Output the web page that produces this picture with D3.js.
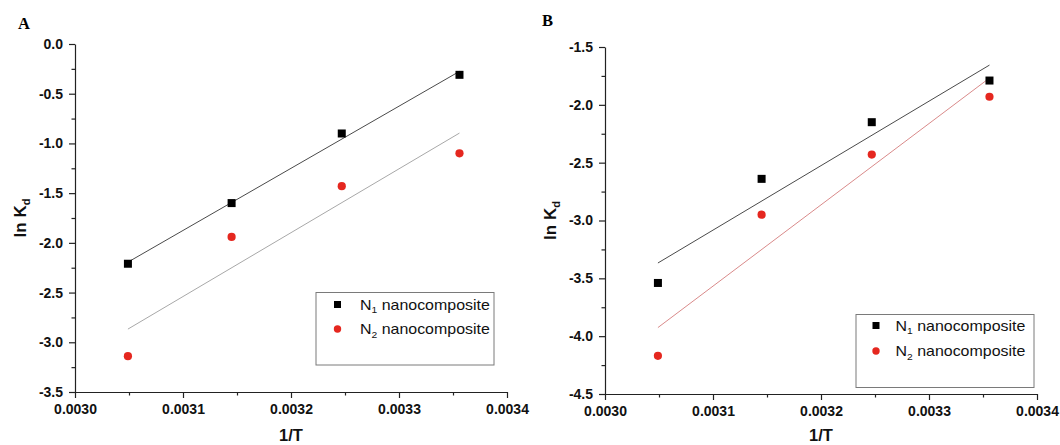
<!DOCTYPE html>
<html>
<head>
<meta charset="utf-8">
<script src="https://cdn.jsdelivr.net/npm/d3@7/dist/d3.min.js"></script>
<style>
  html, body { margin: 0; padding: 0; background: #fff; }
  svg { display: block; }
</style>
</head>
<body>
<svg id="chart" width="1060" height="445"></svg>
<script>
// ---------------- data ----------------
const invT = [0.003049, 0.003145, 0.003247, 0.003356];   // 1/T
const A_N1 = [-2.21, -1.60, -0.90, -0.31];
const A_N2 = [-3.14, -1.94, -1.43, -1.10];
const B_N1 = [-3.54, -2.64, -2.15, -1.79];
const B_N2 = [-4.17, -2.95, -2.43, -1.93];
const xTicks = [0.0030, 0.0031, 0.0032, 0.0033, 0.0034];
const A_yTicks = [0.0, -0.5, -1.0, -1.5, -2.0, -2.5, -3.0, -3.5];
const B_yTicks = [-1.5, -2.0, -2.5, -3.0, -3.5, -4.0, -4.5];
const seriesSub = ["1", "2"];            // N1 / N2
const seriesSuffix = " nanocomposite";
const panelLabels = ["A", "B"];
const xTitle = "1/T";

// ---------------- layout ----------------
const svg = d3.select("#chart");
const FONT = "'Liberation Sans', Arial, Helvetica, sans-serif";

function linFit(xs, ys) {
  const mx = d3.mean(xs), my = d3.mean(ys);
  let sxy = 0, sxx = 0;
  xs.forEach((x, i) => { sxy += (x - mx) * (ys[i] - my); sxx += (x - mx) * (x - mx); });
  const b = sxy / sxx;
  return x => my + b * (x - mx);
}

const panels = [
  { label: panelLabels[0], labelX: 18, labelY: 29, x0: 75, x1: 507, yTop: 44, yBot: 392,
    yDomain: [-3.5, 0], yTicks: A_yTicks, series: [A_N1, A_N2],
    lineColors: ["#4a4a4a", "#a8a8a8"], yTitleX: 26,
    legend: { x: 316, y: 292.5, w: 178, h: 72.5, mx: 21.5, tx: 44, r1: 12, r2: 36.5 } },
  { label: panelLabels[1], labelX: 542, labelY: 26, x0: 605, x1: 1037, yTop: 47, yBot: 394,
    yDomain: [-4.5, -1.5], yTicks: B_yTicks, series: [B_N1, B_N2],
    lineColors: ["#4a4a4a", "#d98a8a"], yTitleX: 556,
    legend: { x: 856, y: 314.5, w: 178, h: 73, mx: 20, tx: 39.5, r1: 11, r2: 36.5 } }
];

const markerColors = ["#000000", "#e5271f"];

panels.forEach(p => {
  const g = svg.append("g");
  const x = d3.scaleLinear().domain([xTicks[0], xTicks[xTicks.length - 1]]).range([p.x0, p.x1]);
  const y = d3.scaleLinear().domain(p.yDomain).range([p.yBot, p.yTop]);

  // panel label
  g.append("text").attr("x", p.labelX).attr("y", p.labelY)
    .attr("font-family", "'Liberation Serif', 'Times New Roman', serif")
    .attr("font-weight", "bold").attr("font-size", 16.5).text(p.label);

  // minor ticks
  const xMinor = d3.pairs(xTicks).map(d => (d[0] + d[1]) / 2);
  const yMinor = d3.pairs(p.yTicks).map(d => (d[0] + d[1]) / 2);

  const xAxis = g.append("g").attr("transform", `translate(0,${p.yBot})`)
    .call(d3.axisBottom(x).tickValues(xTicks).tickSize(6).tickSizeOuter(0).tickPadding(6)
      .tickFormat(d => d.toFixed(4)));
  g.append("g").attr("transform", `translate(0,${p.yBot})`)
    .call(d3.axisBottom(x).tickValues(xMinor).tickSize(3.5).tickSizeOuter(0).tickFormat(""))
    .select(".domain").remove();

  const yAxis = g.append("g").attr("transform", `translate(${p.x0},0)`)
    .call(d3.axisLeft(y).tickValues(p.yTicks).tickSize(6).tickSizeOuter(0).tickPadding(6)
      .tickFormat(d => d.toFixed(1)));
  g.append("g").attr("transform", `translate(${p.x0},0)`)
    .call(d3.axisLeft(y).tickValues(yMinor).tickSize(3.5).tickSizeOuter(0).tickFormat(""))
    .select(".domain").remove();

  g.selectAll(".domain, .tick line").attr("stroke", "#222").attr("stroke-width", 1.2);
  [xAxis, yAxis].forEach(ax => ax.selectAll("text")
    .attr("font-family", FONT).attr("font-weight", "bold").attr("font-size", 14)
    .attr("fill", "#111"));

  // axis titles
  g.append("text").attr("x", (p.x0 + p.x1) / 2).attr("y", 440.5)
    .attr("text-anchor", "middle").attr("font-family", FONT).attr("font-weight", "bold")
    .attr("font-size", 16.5).attr("fill", "#111").text(xTitle);

  const yt = g.append("text")
    .attr("transform", `translate(${p.yTitleX},${(p.yTop + p.yBot) / 2}) rotate(-90)`)
    .attr("text-anchor", "middle").attr("font-family", FONT).attr("font-weight", "bold")
    .attr("font-size", 17).attr("fill", "#111");
  yt.append("tspan").text("ln K");
  yt.append("tspan").attr("font-size", 11).attr("dy", 4).text("d");

  // fit lines
  p.series.forEach((vals, si) => {
    const f = linFit(invT, vals);
    const ends = [invT[0], invT[invT.length - 1]];
    g.append("path")
      .attr("d", d3.line().x(d => x(d)).y(d => y(f(d)))(ends))
      .attr("fill", "none").attr("stroke", p.lineColors[si]).attr("stroke-width", 1);
  });

  // markers
  const s = 8;
  g.selectAll(".sq").data(invT.map((t, i) => [t, p.series[0][i]])).join("rect")
    .attr("x", d => x(d[0]) - s / 2).attr("y", d => y(d[1]) - s / 2)
    .attr("width", s).attr("height", s).attr("fill", markerColors[0]);
  g.selectAll(".ci").data(invT.map((t, i) => [t, p.series[1][i]])).join("circle")
    .attr("cx", d => x(d[0])).attr("cy", d => y(d[1])).attr("r", 4.1)
    .attr("fill", markerColors[1]);

  // legend
  const L = p.legend;
  const lg = g.append("g").attr("transform", `translate(${L.x},${L.y})`);
  lg.append("rect").attr("width", L.w).attr("height", L.h)
    .attr("fill", "#fff").attr("stroke", "#7a7a7a").attr("stroke-width", 1);
  [L.r1, L.r2].forEach((ry, si) => {
    if (si === 0) {
      lg.append("rect").attr("x", L.mx - 3.5).attr("y", ry - 3.5).attr("width", 7).attr("height", 7)
        .attr("fill", markerColors[0]);
    } else {
      lg.append("circle").attr("cx", L.mx).attr("cy", ry).attr("r", 3.7).attr("fill", markerColors[1]);
    }
    const t = lg.append("text")
      .attr("transform", `translate(${L.tx},${ry + 5}) scale(1.14,1)`)
      .attr("font-family", FONT).attr("font-size", 14).attr("fill", "#111");
    t.append("tspan").text("N");
    t.append("tspan").attr("font-size", 9).attr("dy", 3.5).text(seriesSub[si]);
    t.append("tspan").attr("dy", -3.5).text(seriesSuffix);
  });
});
</script>
</body>
</html>
